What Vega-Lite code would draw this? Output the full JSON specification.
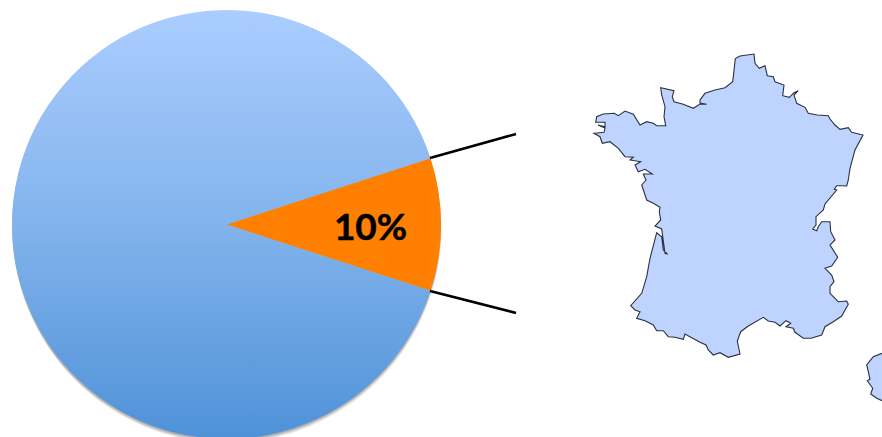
{"$schema":"https://vega.github.io/schema/vega-lite/v6.json","width":882,"height":437,"padding":0,"autosize":"none","background":"white","view":{"stroke":null},
"datasets":{
"pie":[{"slice":"France","a0":1.2566,"a1":1.885,"cx":226.5,"cy":224.5},{"slice":"Reste","a0":1.885,"a1":7.5398,"cx":226.5,"cy":224.5}],
"shadow":[{"a0":0,"a1":6.2832,"cx":226.5,"cy":225.5},{"a0":0,"a1":6.2832,"cx":226.5,"cy":226.5},{"a0":0,"a1":6.2832,"cx":226.5,"cy":227.5},{"a0":0,"a1":6.2832,"cx":227,"cy":228.5}],
"leaders":[{"x":430,"y":158,"x2":516,"y2":134},{"x":430,"y":291,"x2":516,"y2":313}],
"label":[{"x":370.5,"y":229,"t":"10%"}],
"france":[
{"i":0,"x":740,"y":56},{"i":1,"x":735.3,"y":58.5},{"i":2,"x":733.3,"y":76.7},{"i":3,"x":732.7,"y":81.7},{"i":4,"x":725,"y":87.7},{"i":5,"x":715,"y":90},{"i":6,"x":705,"y":93.3},{"i":7,"x":700,"y":100},{"i":8,"x":700,"y":103},{"i":9,"x":706.7,"y":104.3},{"i":10,"x":700,"y":104},{"i":11,"x":693.3,"y":108.3},{"i":12,"x":683.3,"y":104.3},{"i":13,"x":674,"y":101.7},{"i":14,"x":672.3,"y":96.7},{"i":15,"x":674,"y":90.7},{"i":16,"x":660.7,"y":87.7},{"i":17,"x":661.7,"y":95},{"i":18,"x":665,"y":106.7},{"i":19,"x":664,"y":116.7},{"i":20,"x":665.7,"y":125.7},{"i":21,"x":656.7,"y":125.7},{"i":22,"x":653.3,"y":123.3},{"i":23,"x":646.7,"y":121.7},{"i":24,"x":640,"y":125},{"i":25,"x":633.3,"y":114.3},{"i":26,"x":625,"y":111},{"i":27,"x":618.3,"y":115.7},{"i":28,"x":614.3,"y":113.3},{"i":29,"x":603.3,"y":114},{"i":30,"x":596.7,"y":116.7},{"i":31,"x":595.7,"y":122.3},{"i":32,"x":605,"y":122.3},{"i":33,"x":605,"y":126.7},{"i":34,"x":598,"y":125},{"i":35,"x":605,"y":128},{"i":36,"x":604,"y":132.3},{"i":37,"x":594,"y":133.3},{"i":38,"x":600,"y":136.7},{"i":39,"x":602.3,"y":143.3},{"i":40,"x":610,"y":141.7},{"i":41,"x":618.3,"y":148.3},{"i":42,"x":625,"y":156.7},{"i":43,"x":633.3,"y":157.3},{"i":44,"x":630,"y":160},{"i":45,"x":640.7,"y":161.7},{"i":46,"x":635,"y":165},{"i":47,"x":638.3,"y":171.7},{"i":48,"x":645,"y":169.3},{"i":49,"x":652.3,"y":174},{"i":50,"x":643.3,"y":174},{"i":51,"x":646,"y":180},{"i":52,"x":641.7,"y":185},{"i":53,"x":646.7,"y":200},{"i":54,"x":653.3,"y":203.3},{"i":55,"x":660,"y":207.3},{"i":56,"x":659.3,"y":211.7},{"i":57,"x":660.7,"y":220},{"i":58,"x":655,"y":226},{"i":59,"x":661.7,"y":229},{"i":60,"x":665,"y":253.3},{"i":61,"x":667.7,"y":254.3},{"i":62,"x":663.3,"y":250},{"i":63,"x":661.7,"y":236.7},{"i":64,"x":656.7,"y":232.7},{"i":65,"x":650,"y":258.3},{"i":66,"x":646.7,"y":276.7},{"i":67,"x":641.7,"y":293.3},{"i":68,"x":630.7,"y":305.7},{"i":69,"x":635,"y":310},{"i":70,"x":640,"y":311.7},{"i":71,"x":636.7,"y":318.3},{"i":72,"x":645,"y":320.7},{"i":73,"x":653.3,"y":325},{"i":74,"x":656.7,"y":330.7},{"i":75,"x":663.3,"y":330.7},{"i":76,"x":668.3,"y":336.7},{"i":77,"x":675,"y":337.3},{"i":78,"x":683.3,"y":339.3},{"i":79,"x":685,"y":334},{"i":80,"x":700,"y":342.3},{"i":81,"x":706,"y":345},{"i":82,"x":708.3,"y":350},{"i":83,"x":713.3,"y":355},{"i":84,"x":720,"y":352.7},{"i":85,"x":728.3,"y":357.3},{"i":86,"x":740,"y":354},{"i":87,"x":737.3,"y":341},{"i":88,"x":740.7,"y":331.7},{"i":89,"x":748.3,"y":326},{"i":90,"x":763.3,"y":317.3},{"i":91,"x":768.3,"y":321},{"i":92,"x":775,"y":322.3},{"i":93,"x":780,"y":326},{"i":94,"x":786,"y":320.7},{"i":95,"x":790.7,"y":323.3},{"i":96,"x":786,"y":326.7},{"i":97,"x":793.3,"y":328.3},{"i":98,"x":795,"y":332.3},{"i":99,"x":803.3,"y":338.3},{"i":100,"x":811,"y":338.3},{"i":101,"x":821.7,"y":335},{"i":102,"x":825,"y":326.7},{"i":103,"x":833.3,"y":321.7},{"i":104,"x":841.7,"y":316},{"i":105,"x":848.3,"y":304.3},{"i":106,"x":846.7,"y":301},{"i":107,"x":838.3,"y":301.7},{"i":108,"x":830,"y":293.3},{"i":109,"x":830,"y":286.7},{"i":110,"x":834,"y":281.7},{"i":111,"x":831.7,"y":275},{"i":112,"x":825,"y":268.3},{"i":113,"x":831.7,"y":266},{"i":114,"x":837.7,"y":257.3},{"i":115,"x":830,"y":245},{"i":116,"x":835,"y":240},{"i":117,"x":830.7,"y":231.7},{"i":118,"x":830,"y":221.7},{"i":119,"x":821.7,"y":221.7},{"i":120,"x":818.3,"y":226.7},{"i":121,"x":816.7,"y":230.7},{"i":122,"x":812.7,"y":229},{"i":123,"x":816,"y":225},{"i":124,"x":816,"y":216.7},{"i":125,"x":823.3,"y":210},{"i":126,"x":825,"y":204},{"i":127,"x":836.7,"y":190},{"i":128,"x":834.3,"y":189.3},{"i":129,"x":836.7,"y":185.7},{"i":130,"x":841.7,"y":185.7},{"i":131,"x":846.7,"y":186},{"i":132,"x":848.3,"y":180},{"i":133,"x":850,"y":168.3},{"i":134,"x":855,"y":150},{"i":135,"x":863,"y":135},{"i":136,"x":851.7,"y":132.3},{"i":137,"x":848.3,"y":127.7},{"i":138,"x":840,"y":129.3},{"i":139,"x":835,"y":125},{"i":140,"x":830,"y":119},{"i":141,"x":828.3,"y":115.7},{"i":142,"x":817.3,"y":115},{"i":143,"x":808.3,"y":113.3},{"i":144,"x":805,"y":107.3},{"i":145,"x":796.7,"y":103.3},{"i":146,"x":794,"y":95},{"i":147,"x":798.3,"y":90.7},{"i":148,"x":794,"y":92.7},{"i":149,"x":789.3,"y":97.3},{"i":150,"x":782.7,"y":95.7},{"i":151,"x":784,"y":85},{"i":152,"x":775,"y":81.7},{"i":153,"x":773.3,"y":76.7},{"i":154,"x":767.3,"y":75.7},{"i":155,"x":765,"y":65.7},{"i":156,"x":759.3,"y":68.3},{"i":157,"x":755,"y":63.3},{"i":158,"x":754,"y":54},{"i":159,"x":741.7,"y":55.7},{"i":160,"x":740,"y":56}],
"corsica":[{"i":0,"x":882,"y":353.3},{"i":1,"x":873.3,"y":356.7},{"i":2,"x":866.7,"y":365},{"i":3,"x":868.3,"y":371.7},{"i":4,"x":870,"y":379.3},{"i":5,"x":867.3,"y":380.7},{"i":6,"x":872.7,"y":388.3},{"i":7,"x":870.7,"y":394},{"i":8,"x":876.7,"y":398.3},{"i":9,"x":882,"y":400.7},{"i":10,"x":890,"y":400.7},{"i":11,"x":890,"y":353.3},{"i":12,"x":882,"y":353.3}]
},
"encoding":{
"x":{"field":"x","type":"quantitative","scale":{"domain":[0,882],"nice":false,"zero":false},"axis":null},
"y":{"field":"y","type":"quantitative","scale":{"domain":[437,0],"nice":false,"zero":false},"axis":null}
},
"layer":[
{"data":{"name":"shadow"},"mark":{"type":"arc","outerRadius":214.5,"fill":"#000000","fillOpacity":0.09},
 "encoding":{"x":{"field":"cx","type":"quantitative"},"y":{"field":"cy","type":"quantitative"},"theta":{"field":"a0","type":"quantitative","scale":null},"theta2":{"field":"a1"}}},
{"data":{"name":"pie"},"mark":{"type":"arc","outerRadius":214.5},
 "encoding":{"x":{"field":"cx","type":"quantitative"},"y":{"field":"cy","type":"quantitative"},
 "theta":{"field":"a0","type":"quantitative","scale":null},"theta2":{"field":"a1"},
 "fill":{"condition":{"test":"datum.slice==='France'","value":"#ff7f00"},"value":{"gradient":"linear","x1":0,"y1":0,"x2":0,"y2":1,"stops":[{"offset":0,"color":"#abcdff"},{"offset":0.5,"color":"#82b3ec"},{"offset":1,"color":"#4f92d8"}]}}}},
{"data":{"name":"leaders"},"mark":{"type":"rule","stroke":"#000000","strokeWidth":2.6},
 "encoding":{"x2":{"field":"x2"},"y2":{"field":"y2"}}},
{"data":{"name":"label"},"mark":{"type":"text","font":"Lato","fontWeight":"bold","fontSize":37,"align":"center","baseline":"middle","fill":"#000000","stroke":"#000000","strokeWidth":0.5},
 "encoding":{"text":{"field":"t"}}},
{"data":{"name":"france"},"mark":{"type":"line","fill":"#bfd3ff","filled":true,"stroke":"#2a3142","strokeWidth":1.1,"interpolate":"linear"},
 "encoding":{"order":{"field":"i","type":"quantitative"}}},
{"data":{"name":"corsica"},"mark":{"type":"line","fill":"#bfd3ff","filled":true,"stroke":"#2a3142","strokeWidth":1.1,"interpolate":"linear","clip":true},
 "encoding":{"order":{"field":"i","type":"quantitative"}}}
]}
